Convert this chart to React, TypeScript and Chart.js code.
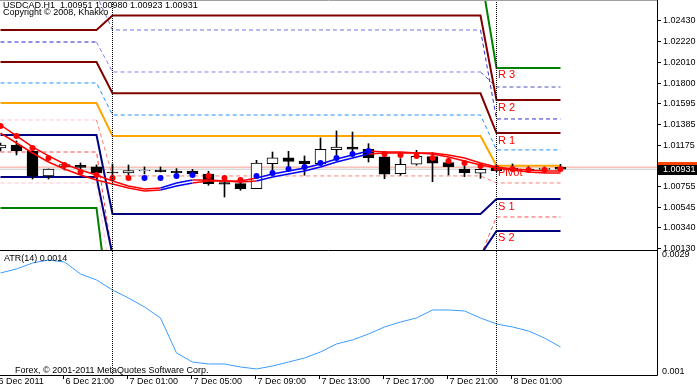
import React, { useEffect, useRef } from "react";
import { Chart, registerables } from "chart.js";
Chart.register(...registerables);

// ---------- text ----------
const TITLE = "USDCAD.H1  1.00951 1.00980 1.00923 1.00931";
const COPYRIGHT = "Copyright \u00a9 2008, Khakko";
const ATR_TITLE = "ATR(14) 0.0014";
const FOOTER = "Forex, \u00a9 2001-2011 MetaQuotes Software Corp.";

// ---------- time axis ----------
const X_LABEL_BARS = [0, 4, 8, 12, 16, 20, 24, 28, 32];
const X_LABELS = ["6 Dec 2011", "6 Dec 21:00", "7 Dec 01:00", "7 Dec 05:00", "7 Dec 09:00", "7 Dec 13:00", "7 Dec 17:00", "7 Dec 21:00", "8 Dec 01:00"];
const DAY_START = [0, 7, 31];

// ---------- candles (H1) ----------
const OPEN = [1.01146, 1.01176, 1.01115, 1.00863, 1.00954, 1.00969, 1.00954, 1.00903, 1.00893, 1.00913, 1.00923, 1.0091, 1.00913, 1.00883, 1.00795, 1.00785, 1.00734, 1.00987, 1.01045, 1.01014, 1.00987, 1.01129, 1.01156, 1.01133, 1.01055, 1.00886, 1.00981, 1.01058, 1.00997, 1.00933, 1.0089, 1.0094, 1.0094, 1.00933, 1.0093, 1.00951];
const HIGH = [1.01196, 1.01217, 1.01126, 1.00933, 1.00989, 1.00994, 1.00974, 1.00984, 1.00974, 1.00954, 1.00954, 1.00937, 1.0093, 1.0091, 1.00819, 1.00835, 1.01021, 1.01105, 1.01112, 1.01065, 1.01247, 1.01318, 1.01307, 1.01189, 1.01072, 1.01038, 1.01122, 1.01098, 1.01042, 1.00974, 1.0094, 1.00974, 1.00984, 1.00957, 1.00954, 1.0098];
const LOW = [1.01115, 1.01075, 1.00832, 1.00832, 1.00923, 1.00913, 1.00873, 1.00863, 1.00873, 1.00883, 1.00903, 1.0087, 1.0087, 1.00769, 1.0065, 1.00718, 1.00734, 1.0087, 1.00954, 1.0087, 1.00987, 1.01072, 1.01078, 1.01004, 1.00835, 1.0087, 1.00971, 1.00805, 1.00873, 1.00856, 1.00839, 1.00906, 1.00906, 1.00906, 1.00913, 1.00923];
const CLOSE = [1.01176, 1.01115, 1.00863, 1.00933, 1.00979, 1.00949, 1.00893, 1.00893, 1.00916, 1.00923, 1.00906, 1.00896, 1.00883, 1.00785, 1.00779, 1.00734, 1.00994, 1.01045, 1.01011, 1.00987, 1.01133, 1.01156, 1.01133, 1.01048, 1.0088, 1.00981, 1.01062, 1.00991, 1.00957, 1.00896, 1.0093, 1.00916, 1.0093, 1.00923, 1.00935, 1.00931];

// ---------- moving-average ribbon + dots ----------
const MA_FAST = [1.01378, 1.01267, 1.01156, 1.01065, 1.00984, 1.00923, 1.00873, 1.00812, 1.00762, 1.00731, 1.00741, 1.00792, 1.00822, 1.00822, 1.00812, 1.00812, 1.00842, 1.00883, 1.00913, 1.00944, 1.00984, 1.01035, 1.01075, 1.01115, 1.01105, 1.01105, 1.01095, 1.01095, 1.01075, 1.01045, 1.00994, 1.00954, 1.00933, 1.00923, 1.00913, 1.00913];
const MA_SLOW = [1.01297, 1.01196, 1.01095, 1.01004, 1.00933, 1.00873, 1.00822, 1.00782, 1.00741, 1.00711, 1.00721, 1.00762, 1.00792, 1.00812, 1.00812, 1.00802, 1.00812, 1.00853, 1.00883, 1.00913, 1.00954, 1.01004, 1.01045, 1.01085, 1.01095, 1.01095, 1.01095, 1.01085, 1.01055, 1.01014, 1.00974, 1.00944, 1.00923, 1.00903, 1.00893, 1.00893];
const MA_TREND = ["r","r","r","r","r","r","r","r","r","r","b","b","r","r","r","r","b","b","b","b","b","b","b","r","r","r","r","r","r","r","r","r","r","r","r","r"];
const DOTS = [1.01368, 1.01267, 1.01146, 1.01045, 1.00974, 1.00903, 1.00873, 1.00842, 1.00842, 1.00842, 1.00842, 1.00863, 1.00873, 1.00863, 1.00842, 1.00822, 1.00863, 1.00893, 1.00933, 1.00954, 1.00994, 1.01045, 1.01085, 1.01115, 1.01085, 1.01075, 1.01065, 1.01045, 1.01014, 1.00994, 1.00964, 1.00944, 1.00933, 1.00923, 1.00923, 1.00933];
const DOT_TREND = ["r","r","r","r","r","r","r","r","r","b","b","b","b","r","r","r","b","b","b","b","b","b","b","b","r","r","r","r","r","r","r","r","r","r","r","r"];

// ---------- daily pivots (per day: 6 Dec, 7 Dec, 8 Dec) ----------
const R3 = [1.02753, 1.02925, 1.01955];
const R2 = [1.02339, 1.02485, 1.01631];
const R1 = [1.02015, 1.01699, 1.01297];
const PP = [1.01601, 1.01267, 1.00967];
const S1 = [1.01277, 1.00478, 1.0063];
const S2 = [1.00853, 1.00064, 1.00307];
const S3 = [1.00539, 0.99255, 0.99963];
const MID_X = [1.02693, 1.02339, 1.01439];
const MID_Y = [1.02217, 1.01914, 1.01762];
const MID_Z = [1.01803, 1.01479, 1.01126];
const MID_W = [1.01429, 1.00863, 1.00792];
const MID_V = [1.01105, 1.00054, 1.00448];
const MID_U = [1.00792, 0.997, 1.00003];
const PIVOT_LABELS = ["R 3", "R 2", "R 1", "Pivot", "S 1", "S 2"];

const ASK = 1.00952;
const BID = 1.00931;

// ---------- ATR(14) ----------
const ATR = [0.002608, 0.002673, 0.00277, 0.002819, 0.002786, 0.002592, 0.002494, 0.002332, 0.002202, 0.002056, 0.001877, 0.001309, 0.001162, 0.00113, 0.00113, 0.001081, 0.001049, 0.001097, 0.001162, 0.001227, 0.001325, 0.001455, 0.00152, 0.001617, 0.001731, 0.001812, 0.001877, 0.002007, 0.002007, 0.001991, 0.001877, 0.00178, 0.001731, 0.001666, 0.001552, 0.001406];
const ATR_TICKS = [0.0029, 0.001];

// ---------- axes ----------
const PRICE_TICKS = [1.0243, 1.0222, 1.0201, 1.018, 1.01595, 1.01385, 1.01175, 1.00755, 1.00545, 1.0034, 1.0013];
const X_MIN = -0.03125;
const X_MAX = 41.03125;
const PRICE_MIN = 1.00104;
const PRICE_MAX = 1.02642;
const ATR_MIN = 0.000951;
const ATR_MAX = 0.002965;

const FONT9 = "9px 'Liberation Sans', Arial, sans-serif";
const FONT11 = "11px 'Liberation Sans', Arial, sans-serif";
const AXIS_PAD = 40;

const dayOf = (k: number) => (k >= DAY_START[2] ? 2 : k >= DAY_START[1] ? 1 : 0);
const expand = (levels: number[]) => OPEN.map((_, k) => ({ x: k, y: levels[dayOf(k)] }));
const series = (vals: number[]) => vals.map((v, k) => ({ x: k, y: v }));

function lineDs(levels: number[], color: string | string[], width: number, dashed: boolean, order: number) {
  const ds: any = {
    type: "line",
    data: expand(levels),
    borderColor: Array.isArray(color) ? color[1] : color,
    borderWidth: width,
    borderDash: dashed ? [4, 3] : [],
    pointRadius: 0,
    tension: 0,
    fill: false,
    order,
  };
  if (Array.isArray(color)) {
    ds.segment = { borderColor: (c: any) => color[dayOf(c.p0DataIndex + 1)] };
  }
  return ds;
}

function crisp(v: number) {
  return Math.round(v - 0.5) + 0.5;
}

const mainPlugin = {
  id: "mt4main",
  afterDatasetsDraw(chart: any) {
    const { ctx, chartArea, scales } = chart;
    const x = scales.x, y = scales.y;
    ctx.save();
    ctx.strokeStyle = "#000";
    ctx.lineWidth = 1;
    ctx.setLineDash([1, 1]);
    DAY_START.slice(1).forEach((k) => {
      const px = crisp(x.getPixelForValue(k));
      ctx.beginPath();
      ctx.moveTo(px, chartArea.top);
      ctx.lineTo(px, chartArea.bottom);
      ctx.stroke();
    });
    ctx.setLineDash([]);
    const lx = x.getPixelForValue(DAY_START[2]) + 1.5;
    ctx.fillStyle = "#ff0000";
    ctx.font = FONT11;
    ctx.textBaseline = "top";
    ctx.textAlign = "left";
    [R3, R2, R1, PP, S1, S2].forEach((lv, i) => {
      ctx.fillText(PIVOT_LABELS[i], lx, y.getPixelForValue(lv[2]) + 2);
    });
    ctx.restore();
  },
  afterDraw(chart: any) {
    const { ctx, chartArea, scales } = chart;
    const y = scales.y;
    const W = chart.width;
    ctx.save();
    ctx.lineWidth = 1;
    ctx.strokeStyle = "#a0a0a0";
    ctx.beginPath();
    ctx.moveTo(0, 0.5);
    ctx.lineTo(chartArea.right, 0.5);
    ctx.stroke();
    ctx.strokeStyle = "#000";
    ctx.beginPath();
    ctx.moveTo(0, chartArea.bottom - 0.5);
    ctx.lineTo(chartArea.right + 0.5, chartArea.bottom - 0.5);
    ctx.moveTo(chartArea.right + 0.5, 0);
    ctx.lineTo(chartArea.right + 0.5, chartArea.bottom);
    ctx.stroke();
    ctx.font = FONT9;
    ctx.fillStyle = "#000";
    ctx.textBaseline = "middle";
    ctx.textAlign = "left";
    PRICE_TICKS.forEach((v) => {
      const py = crisp(y.getPixelForValue(v));
      ctx.beginPath();
      ctx.moveTo(chartArea.right + 1, py);
      ctx.lineTo(chartArea.right + 4, py);
      ctx.stroke();
      ctx.fillText(v.toFixed(5), chartArea.right + 6, py);
    });
    const ay = y.getPixelForValue(ASK);
    const by = y.getPixelForValue(BID);
    ctx.fillStyle = "#ff4500";
    ctx.fillRect(chartArea.right + 1, Math.round(ay) - 5, W - chartArea.right, 10);
    ctx.fillStyle = "#000";
    ctx.fillRect(chartArea.right + 1, Math.round(by) - 4, W - chartArea.right, 10);
    ctx.fillStyle = "#fff";
    ctx.fillText(BID.toFixed(5), chartArea.right + 6, Math.round(by) + 1);
    ctx.fillStyle = "#000";
    ctx.textBaseline = "top";
    ctx.fillText(TITLE, 3, 1);
    ctx.fillText(COPYRIGHT, 3, 8);
    ctx.restore();
  },
};

const atrPlugin = {
  id: "mt4atr",
  afterDraw(chart: any) {
    const { ctx, chartArea, scales } = chart;
    const x = scales.x, y = scales.y;
    ctx.save();
    ctx.strokeStyle = "#000";
    ctx.lineWidth = 1;
    ctx.setLineDash([1, 1]);
    DAY_START.slice(1).forEach((k) => {
      const px = crisp(x.getPixelForValue(k));
      ctx.beginPath();
      ctx.moveTo(px, 0);
      ctx.lineTo(px, chartArea.bottom);
      ctx.stroke();
    });
    ctx.setLineDash([]);
    ctx.beginPath();
    ctx.moveTo(chartArea.right + 0.5, 0);
    ctx.lineTo(chartArea.right + 0.5, chartArea.bottom + 0.5);
    ctx.moveTo(0, chartArea.bottom + 0.5);
    ctx.lineTo(chartArea.right + 0.5, chartArea.bottom + 0.5);
    ctx.stroke();
    ctx.font = FONT9;
    ctx.fillStyle = "#000";
    ctx.textAlign = "left";
    ctx.textBaseline = "top";
    X_LABEL_BARS.forEach((k, i) => {
      const px = crisp(x.getPixelForValue(k)) - 1;
      ctx.beginPath();
      ctx.moveTo(px, chartArea.bottom);
      ctx.lineTo(px, chartArea.bottom + 4);
      ctx.stroke();
      ctx.fillText(X_LABELS[i], px + 2 - (i === 0 ? 3 : 0), chartArea.bottom + 2);
    });
    ctx.textBaseline = "middle";
    ATR_TICKS.forEach((v) => {
      ctx.fillText(String(v), chartArea.right + 5, y.getPixelForValue(v));
    });
    ctx.textBaseline = "top";
    ctx.fillText(ATR_TITLE, 4, 3);
    ctx.fillText(FOOTER, 15, chartArea.bottom - 9);
    ctx.restore();
  },
};

export default function App() {
  const mainRef = useRef<HTMLCanvasElement>(null);
  const atrRef = useRef<HTMLCanvasElement>(null);

  useEffect(() => {
    const RED = "#ff0000";
    const BLUE = "#0000ff";
    const maDs = (vals: number[], order: number) => ({
      type: "line",
      data: series(vals),
      borderColor: RED,
      borderWidth: 1.5,
      pointRadius: 0,
      tension: 0,
      fill: false,
      order,
      segment: { borderColor: (c: any) => (MA_TREND[c.p0DataIndex] === "b" ? BLUE : RED) },
    });
    const main = new Chart(mainRef.current as HTMLCanvasElement, {
      type: "bar",
      data: {
        datasets: [
          {
            type: "line",
            data: series(DOTS),
            showLine: false,
            pointRadius: 3,
            pointBorderWidth: 0,
            pointBackgroundColor: DOT_TREND.map((t) => (t === "b" ? BLUE : RED)),
            order: 0,
          } as any,
          maDs(MA_FAST, 1),
          maDs(MA_SLOW, 1),
          {
            type: "bar",
            data: OPEN.map((o, k) => ({ x: k, y: [o, CLOSE[k]] })),
            backgroundColor: OPEN.map((o, k) => (CLOSE[k] > o ? "#ffffff" : "#000000")),
            borderColor: "#000",
            borderWidth: 1,
            borderSkipped: false,
            barThickness: 11,
            minBarLength: 1,
            grouped: false,
            order: 2,
          } as any,
          {
            type: "bar",
            data: OPEN.map((_, k) => ({ x: k, y: [LOW[k], HIGH[k]] })),
            backgroundColor: "#000",
            borderWidth: 0,
            barThickness: 1,
            grouped: false,
            order: 3,
          } as any,
          lineDs(R3, "#008000", 2, false, 4),
          lineDs(R2, "#800000", 2, false, 4),
          lineDs(R1, "#800000", 2, false, 4),
          lineDs(PP, "#ffa500", 2, false, 4),
          lineDs(S1, "#000080", 2, false, 4),
          lineDs(S2, "#000080", 2, false, 4),
          lineDs(S3, "#008000", 2, false, 4),
          lineDs(MID_X, ["#3030cc", "#7070dd", "#3030cc"], 1, true, 5),
          lineDs(MID_Y, ["#2020cc", "#8080ee", "#5050b8"], 1, true, 5),
          lineDs(MID_Z, "#1e90ff", 1, true, 5),
          lineDs(MID_W, ["#ffc0c8", "#fa8072", "#fa8072"], 1, true, 5),
          lineDs(MID_V, ["#ff4040", "#ff4040", "#ff5050"], 1, true, 5),
          lineDs(MID_U, ["#ffc0c8", "#ffc0c8", "#ffc0c8"], 1, true, 5),
          {
            type: "line",
            data: [{ x: X_MIN, y: ASK }, { x: X_MAX, y: ASK }],
            borderColor: "#f4a090",
            borderWidth: 1,
            pointRadius: 0,
            order: 6,
          } as any,
          {
            type: "line",
            data: [{ x: X_MIN, y: BID }, { x: X_MAX, y: BID }],
            borderColor: "#c8c8c8",
            borderWidth: 1,
            pointRadius: 0,
            order: 6,
          } as any,
        ],
      },
      options: {
        animation: false,
        responsive: false,
        events: [],
        layout: { autoPadding: false, padding: { left: 0, right: AXIS_PAD, top: 0, bottom: 0 } },
        plugins: { legend: { display: false }, tooltip: { enabled: false } },
        scales: {
          x: { type: "linear", display: false, min: X_MIN, max: X_MAX, offset: false },
          y: { type: "linear", display: false, min: PRICE_MIN, max: PRICE_MAX },
        },
      },
      plugins: [mainPlugin],
    } as any);

    const atr = new Chart(atrRef.current as HTMLCanvasElement, {
      type: "line",
      data: {
        datasets: [
          {
            data: series(ATR),
            borderColor: "#3c9cff",
            borderWidth: 1,
            pointRadius: 0,
            tension: 0,
            fill: false,
          },
        ],
      },
      options: {
        animation: false,
        responsive: false,
        events: [],
        layout: { autoPadding: false, padding: { left: 0, right: AXIS_PAD, top: 0, bottom: 12 } },
        plugins: { legend: { display: false }, tooltip: { enabled: false } },
        scales: {
          x: { type: "linear", display: false, min: X_MIN, max: X_MAX },
          y: { type: "linear", display: false, min: ATR_MIN, max: ATR_MAX },
        },
      },
      plugins: [atrPlugin],
    } as any);

    return () => {
      main.destroy();
      atr.destroy();
    };
  }, []);

  return (
    <div style={{ position: "fixed", left: 0, top: 0, width: 697, height: 387, background: "#fff" }}>
      <canvas ref={mainRef} width={697} height={251} style={{ display: "block", width: 697, height: 251 }} />
      <canvas ref={atrRef} width={697} height={136} style={{ display: "block", width: 697, height: 136 }} />
    </div>
  );
}
